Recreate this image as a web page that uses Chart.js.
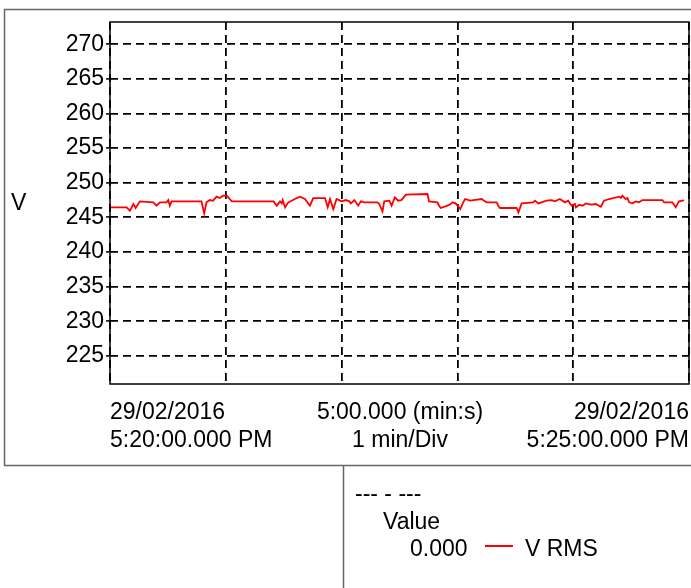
<!DOCTYPE html>
<html lang="en">
<head>
<meta charset="UTF-8">
<title>V RMS</title>
<script src="https://cdn.jsdelivr.net/npm/chart.js"></script>
<style>
  html, body { margin: 0; padding: 0; background: #fff; }
  #wrap { position: relative; width: 691px; height: 588px; overflow: hidden;
          font-family: "Liberation Sans", Arial, sans-serif; font-size: 23px; color: #000; }
  #wrap canvas { position: absolute; left: 0; top: 0; }
  .lbl { position: absolute; white-space: nowrap; line-height: 28px; }
</style>
</head>
<body>
<div id="wrap">
  <canvas id="vChart" width="691" height="588"></canvas>

  <div class="lbl" style="left:11px; top:188px;">V</div>
  <div class="lbl" style="left:110px; top:397px;">29/02/2016<br>5:20:00.000 PM</div>
  <div class="lbl" style="left:300px; width:200px; top:397px; text-align:center;">5:00.000 (min:s)<br>1 min/Div</div>
  <div class="lbl" style="right:2px; top:397px; text-align:right;">29/02/2016<br>5:25:00.000 PM</div>

  <div class="lbl" style="left:355px; top:479px;">--- - ---</div>
  <div class="lbl" style="left:383px; top:507px;">Value</div>
  <div class="lbl" style="left:410px; top:534px;">0.000</div>
  <div style="position:absolute; left:485px; top:545px; width:28px; height:0; border-top:2px solid #ff0000;"></div>
  <div class="lbl" style="left:525px; top:534px;">V RMS</div>
</div>

<script>
// seconds since 5:20:00 PM
const times = [0, 8.6, 10.3, 12.1, 13.3, 15.5, 22.4, 24.1, 25.9, 29.3, 30.2, 31.0, 31.9, 47.4, 48.8, 50.0,
  51.7, 53.4, 55.2, 56.9, 58.6, 60.5, 63.1, 84.7, 86.4, 88.1, 89.0, 89.5, 90.7, 92.4, 94.1, 96.7,
  98.4, 101.0, 103.6, 105.3, 111.4, 112.8, 114.0, 115.7, 117.4, 120.0, 122.2, 124.0, 124.8, 126.6,
  128.6, 130.0, 131.7, 138.6, 139.5, 141.2, 142.1, 144.7, 145.9, 147.6, 149.3, 151.0, 153.3, 164.5,
  165.3, 169.7, 170.5, 171.4, 174.8, 176.6, 177.4, 179.1, 181.5, 183.0, 184.0, 186.6, 188.3, 192.6,
  193.8, 195.2, 200.3, 201.2, 202.1, 210.7, 211.6, 213.3, 219.3, 220.2, 221.9, 223.6, 226.2, 228.8,
  230.5, 233.1, 235.7, 237.4, 239.1, 240.9, 241.4, 243.1, 244.8, 246.6, 249.2, 251.7, 254.3, 256.0,
  258.6, 263.8, 264.7, 265.5, 267.2, 268.1, 269.0, 270.7, 272.4, 274.1, 275.9, 286.2, 287.1, 291.4,
  293.1, 294.8, 296.6, 297.4];
const vrms = [246.45, 246.45, 245.96, 246.93, 246.35, 247.31, 247.17, 246.69, 247.17, 247.17, 247.50, 246.69, 247.31, 247.31, 245.58, 247.17,
  247.50, 247.41, 247.99, 247.79, 248.13, 248.13, 247.31, 247.31, 246.69, 247.31, 247.02, 247.50, 246.45, 247.17, 247.41, 247.79,
  247.99, 247.65, 246.69, 247.79, 247.79, 246.45, 247.65, 246.20, 247.65, 247.31, 247.50, 247.31, 247.02, 247.50,
  246.69, 247.31, 247.17, 247.17, 246.93, 245.87, 247.31, 247.41, 246.69, 247.89, 247.41, 247.50, 248.28, 248.37,
  247.31, 247.17, 246.69, 246.35, 246.69, 246.93, 247.17, 247.02, 246.20, 247.17, 247.65, 247.41, 247.50, 247.65,
  247.41, 247.17, 247.17, 246.69, 246.35, 246.35, 245.72, 247.02, 247.17, 247.41, 247.02, 247.17, 247.41, 247.50,
  247.31, 247.65, 247.17, 247.41, 246.69, 246.93, 246.45, 246.83, 246.69, 247.02, 246.83, 246.93, 246.54, 247.41,
  247.65, 247.99, 247.79, 248.13, 247.65, 247.79, 247.17, 247.02, 247.31, 247.17, 247.50, 247.50, 247.17, 247.17,
  246.45, 247.31, 247.41, 247.50];

const yTicks = [225, 230, 235, 240, 245, 250, 255, 260, 265, 270];
const xDivs = [0, 60, 120, 180, 240, 300];

// outer gray frame and solid plot box
const framePlugin = {
  id: 'frame',
  beforeDraw(chart) {
    const ctx = chart.ctx;
    ctx.save();
    ctx.strokeStyle = '#666';
    ctx.lineWidth = 1.5;
    ctx.beginPath();
    ctx.moveTo(700, 9.5);
    ctx.lineTo(4.5, 9.5);
    ctx.lineTo(4.5, 465.5);
    ctx.lineTo(700, 465.5);
    ctx.moveTo(343.5, 465.5);
    ctx.lineTo(343.5, 600);
    ctx.stroke();
    ctx.restore();
  },
  afterDraw(chart) {
    const a = chart.chartArea;
    const ctx = chart.ctx;
    ctx.save();
    ctx.strokeStyle = '#000';
    ctx.lineWidth = 1.5;
    ctx.strokeRect(a.left, a.top, a.right - a.left, a.bottom - a.top);
    ctx.restore();
  }
};

new Chart(document.getElementById('vChart').getContext('2d'), {
  type: 'line',
  data: {
    datasets: [{
      label: 'V RMS',
      data: times.map((t, i) => ({ x: t, y: vrms[i] })),
      borderColor: '#ff0000',
      borderWidth: 1.8,
      pointRadius: 0,
      tension: 0,
      fill: false
    }]
  },
  options: {
    responsive: false,
    animation: false,
    layout: { padding: { left: 0, top: 22, right: 2, bottom: 204 } },
    plugins: { legend: { display: false }, tooltip: { enabled: false } },
    scales: {
      x: {
        type: 'linear',
        min: 0,
        max: 300,
        afterBuildTicks: s => { s.ticks = xDivs.map(v => ({ value: v })); },
        afterFit: s => { s.height = 0; },
        ticks: { display: false },
        grid: { color: '#000', lineWidth: 1.8, drawTicks: false },
        border: { display: false, dash: [8, 5] }
      },
      y: {
        min: 220.95,
        max: 273.2,
        afterBuildTicks: s => { s.ticks = yTicks.map(v => ({ value: v })); },
        afterFit: s => { s.width = 110; },
        ticks: { color: '#000', padding: 2, font: { family: 'Liberation Sans', size: 23 } },
        grid: { color: '#000', lineWidth: 1.8, tickLength: 4, tickWidth: 1.5, tickBorderDash: [] },
        border: { display: false, dash: [8, 5] }
      }
    }
  },
  plugins: [framePlugin]
});
</script>
</body>
</html>
